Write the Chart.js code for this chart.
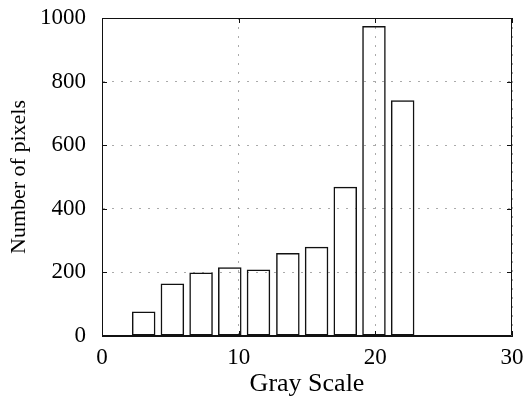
<!DOCTYPE html>
<html>
<head>
<meta charset="utf-8">
<script src="https://cdn.jsdelivr.net/npm/chart.js@4"></script>
<style>
  html, body { margin: 0; padding: 0; background: #fff; }
  #wrap { width: 526px; height: 396px; position: relative; }
</style>
</head>
<body>
<div id="wrap"><canvas id="c" width="526" height="396"></canvas></div>
<script>
// Histogram data
const binCenters = [3.05, 5.15, 7.25, 9.35, 11.45, 13.6, 15.7, 17.8, 19.9, 22.0];
const pixelCounts = [77, 165, 200, 216, 209, 261, 281, 469, 975, 741];
const xTicks = [0, 10, 20, 30];
const yTicks = [0, 200, 400, 600, 800, 1000];
const xTitle = 'Gray Scale';
const yTitle = 'Number of pixels';

const serif = 'Liberation Serif, Times New Roman, serif';

const framePlugin = {
  id: 'frame',
  afterDraw(chart) {
    const { ctx, chartArea: a, scales } = chart;
    ctx.save();
    ctx.strokeStyle = '#111';
    ctx.lineWidth = 1;
    ctx.setLineDash([]);
    ctx.beginPath();
    ctx.rect(a.left + 0.5, a.top + 0.5, a.right - a.left - 1, a.bottom - a.top - 1);
    ctx.stroke();
    // inward ticks
    const L = 5;
    ctx.beginPath();
    xTicks.forEach(v => {
      const px = Math.round(scales.x.getPixelForValue(v)) + 0.5;
      ctx.moveTo(px, a.bottom); ctx.lineTo(px, a.bottom - L);
      ctx.moveTo(px, a.top); ctx.lineTo(px, a.top + L);
    });
    yTicks.forEach(v => {
      const py = Math.round(scales.y.getPixelForValue(v)) + 0.5;
      ctx.moveTo(a.left, py); ctx.lineTo(a.left + L, py);
      ctx.moveTo(a.right, py); ctx.lineTo(a.right - L, py);
    });
    ctx.stroke();
    ctx.restore();
  }
};

new Chart(document.getElementById('c'), {
  type: 'bar',
  data: {
    datasets: [{
      data: binCenters.map((x, i) => ({ x: x, y: pixelCounts[i] })),
      backgroundColor: 'rgba(0,0,0,0)',
      borderColor: '#111',
      borderWidth: 1.5,
      borderSkipped: false,
      barPercentage: 0.82,
      categoryPercentage: 1.0
    }]
  },
  options: {
    responsive: false,
    animation: false,
    devicePixelRatio: 1,
    layout: { padding: { top: 18, right: 14, left: 0, bottom: 0 } },
    plugins: { legend: { display: false }, tooltip: { enabled: false } },
    scales: {
      x: {
        type: 'linear',
        min: 0, max: 30,
        offset: false,
        afterFit: s => { s.height = 60; s.paddingLeft = 0; s.paddingRight = 0; },
        afterBuildTicks: s => { s.ticks = xTicks.map(v => ({ value: v })); },
        grid: { offset: false, drawTicks: false, color: '#aaa', lineWidth: 1 },
        border: { display: true, color: '#111', width: 1, dash: [2, 7] },
        ticks: { color: '#000', padding: 8, maxRotation: 0, font: { family: serif, size: 23 } },
        title: { display: true, text: xTitle, color: '#000', padding: { top: 0, bottom: 0 }, font: { family: serif, size: 26, lineHeight: 0.9 } }
      },
      y: {
        min: 0, max: 1000,
        afterFit: s => { s.width = 102; s.paddingTop = 0; s.paddingBottom = 0; },
        afterBuildTicks: s => { s.ticks = yTicks.map(v => ({ value: v })); },
        grid: { drawTicks: false, color: '#aaa', lineWidth: 1 },
        border: { display: true, color: '#111', width: 1, dash: [2, 7] },
        ticks: { color: '#000', padding: 16, font: { family: serif, size: 23 }, callback: v => String(v) },
        title: { display: true, text: yTitle, color: '#000', padding: { top: 8, bottom: 0 }, font: { family: serif, size: 22, lineHeight: 1 } }
      }
    }
  },
  plugins: [framePlugin]
});
</script>
</body>
</html>
